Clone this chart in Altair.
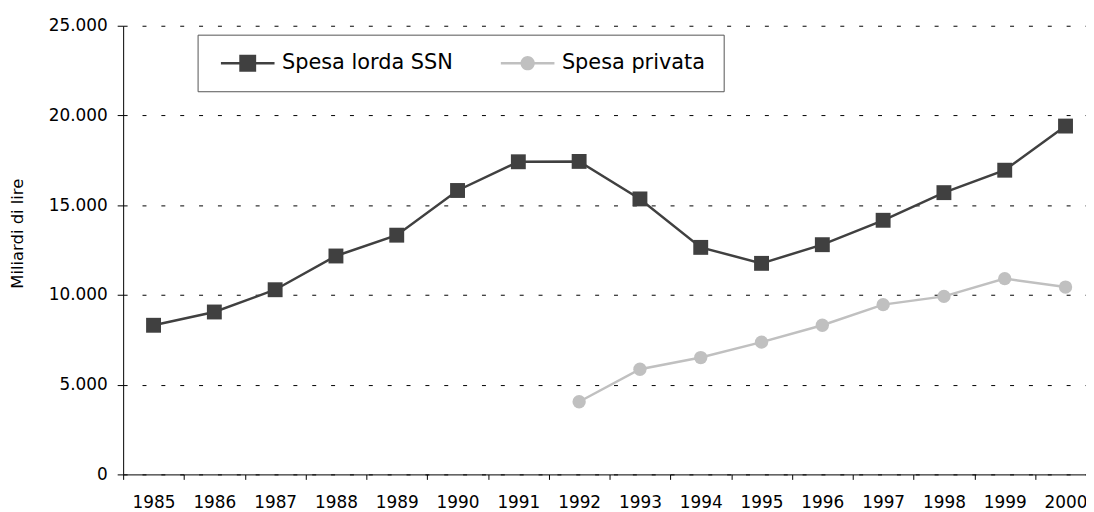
import math
import altair as alt
import pandas as pd

years = ["1985", "1986", "1987", "1988", "1989", "1990", "1991", "1992",
         "1993", "1994", "1995", "1996", "1997", "1998", "1999", "2000"]
spesa_ssn = [8310, 9050, 10290, 12170, 13330, 15820, 17420, 17440,
             15350, 12650, 11760, 12800, 14160, 15700, 16950, 19410]
spesa_privata = [None, None, None, None, None, None, None, 4050,
                 5860, 6510, 7370, 8310, 9460, 9920, 10910, 10440]
series = ["Spesa lorda SSN", "Spesa privata"]
colors = ["#404040", "#C0C0C0"]
y_ticks = [0, 5000, 10000, 15000, 20000, 25000]

rows = []
for yr, v in zip(years, spesa_ssn):
    rows.append({"anno": yr, "serie": series[0], "valore": v})
for yr, v in zip(years, spesa_privata):
    if v is not None:
        rows.append({"anno": yr, "serie": series[1], "valore": v})
df = pd.DataFrame(rows)

FONT = "DejaVu Sans"

# legend glyphs drawn as one closed outline: line segment + marker
L, T, S, R = 2.7, 0.12, 0.85, 0.72
sq_path = (f"M{-L},{-T}H{-S}V{-S}H{S}V{-T}H{L}V{T}H{S}V{S}H{-S}V{T}H{-L}Z")
a0 = math.asin(T / R)
pts_top = []
pts_bot = []
n = 16
for i in range(n + 1):
    ang = math.pi - a0 - (math.pi - 2 * a0) * i / n
    pts_top.append((R * math.cos(ang), -R * math.sin(ang)))
    pts_bot.append((R * math.cos(ang), R * math.sin(ang)))
ci = [f"M{-L},{-T}"]
ci += [f"L{x:.3f},{y:.3f}" for x, y in pts_top]
ci += [f"L{L},{-T}", f"L{L},{T}"]
ci += [f"L{x:.3f},{y:.3f}" for x, y in reversed(pts_bot)]
ci += [f"L{-L},{T}", "Z"]
ci_path = "".join(ci)

legend = alt.Legend(
    title=None,
    orient="none",
    legendX=75,
    legendY=9,
    direction="horizontal",
    padding=18,
    strokeColor="#555555",
    fillColor="white",
    symbolSize=400,
    symbolOffset=22,
    labelOffset=24,
    labelLimit=400,
    columnPadding=42,
    labelFont=FONT,
    labelFontSize=21,
    labelColor="black",
    symbolStrokeWidth=0,
    symbolOpacity=1,
    symbolType=alt.ExprRef(expr=f"datum.value === '{series[0]}' ? '{sq_path}' : '{ci_path}'"),
    symbolFillColor=alt.ExprRef(expr="scale('color', datum.value)"),
    symbolStrokeColor=alt.ExprRef(expr="scale('color', datum.value)"),
)

col_scale = alt.Scale(domain=series, range=colors)

x_enc = alt.X(
    "anno:O",
    sort=years,
    scale=alt.Scale(type="band", paddingInner=0, paddingOuter=0, range=[0, 980]),
    axis=alt.Axis(
        title=None, labelAngle=0, tickBand="extent", domainColor="black",
        tickColor="black", tickSize=5, labelPadding=15, labelFont=FONT,
        labelFontSize=17, labelColor="black", grid=False,
    ),
)
y_enc = alt.Y(
    "valore:Q",
    scale=alt.Scale(domain=[0, 25000], nice=False),
    axis=alt.Axis(
        title="Miliardi di lire", values=y_ticks, format=",d",
        labelExpr="replace(datum.label, ',', '.')",
        domainColor="black", tickColor="black", tickSize=6, labelPadding=10,
        labelFont=FONT, labelFontSize=17, labelColor="black",
        titleFont=FONT, titleFontSize=16.5, titleFontWeight="normal", titleColor="black",
        titleX=-106, titleY=209, titleAlign="center", titleBaseline="middle",
        grid=True, gridColor="black", gridDash=[4, 15], gridWidth=1,
    ),
)

line = alt.Chart(df).mark_line(strokeWidth=2.5).encode(
    x=x_enc, y=y_enc,
    color=alt.Color("serie:N", scale=col_scale, legend=legend),
)
pts_ssn = alt.Chart(df).transform_filter(
    alt.datum.serie == series[0]
).mark_point(filled=True, opacity=1, shape="square", size=225).encode(
    x=x_enc, y=y_enc,
    color=alt.Color("serie:N", scale=col_scale, legend=None),
)
pts_priv = alt.Chart(df).transform_filter(
    alt.datum.serie == series[1]
).mark_point(filled=True, opacity=1, shape="circle", size=180).encode(
    x=x_enc, y=y_enc,
    color=alt.Color("serie:N", scale=col_scale, legend=None),
)

chart = alt.layer(line, pts_ssn, pts_priv).properties(
    width=970,
    height=452,
    autosize=alt.AutoSizeParams(type="none"),
    padding={"left": 116, "top": 16, "right": 0, "bottom": 36},
).configure_view(stroke=None)

chart.save("out.html", embed_options={"renderer": "svg", "actions": False})
